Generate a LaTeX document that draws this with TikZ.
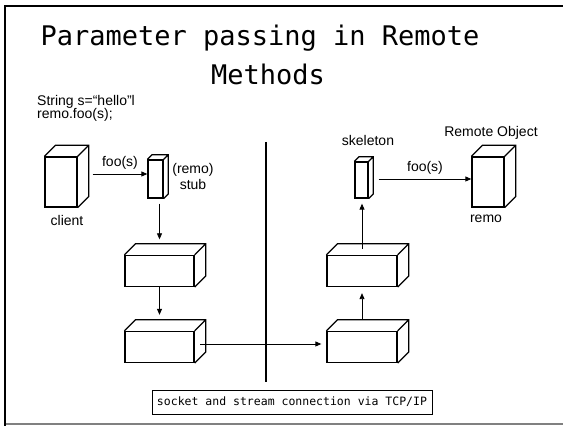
\documentclass[tikz,border=0pt]{standalone}
\usepackage{fontspec}
\setmainfont{Liberation Sans}
\newfontfamily\slidefont{DejaVu Sans Mono}
\usetikzlibrary{arrows.meta,calc}

\begin{document}
\begin{tikzpicture}[
  x=1pt, y=1pt,
  font=\fontsize{14}{16.5}\selectfont,
  crate/.style={draw, line width=1.3pt, inner sep=0pt},
  arr/.style={-{Triangle[length=6pt,width=5pt]}, line width=0.8pt},
  titletext/.style={font=\slidefont\fontsize{27}{30}\selectfont, inner sep=0pt, anchor=base}
]
  \useasboundingbox (0,0) rectangle (563,426);

  % slide frame
  \draw[line width=2.6pt] (563,420) -- (4.8,420) -- (4.8,0);
  \draw[gray, line width=1.5pt] (6,1.8) -- (563,1.8);

  % title
  \node[titletext] (title) at (260,380) {Parameter passing in Remote};
  \node[titletext] (title2) at (268,341) {Methods};

  % call in the client
  \node[anchor=north west, align=left, inner sep=0pt,
        font=\fontsize{14}{13.6}\selectfont] (code) at (37,331)
    {String s=“hello”l\\remo.foo(s);};

  % front faces
  \node[crate, minimum width=32, minimum height=50] (client) at (61,244) {};
  \node[crate, minimum width=15, minimum height=38] (stub) at (155.5,247) {};
  \node[crate, minimum width=69, minimum height=31] (box1) at (159.5,155) {};
  \node[crate, minimum width=69, minimum height=31] (box2) at (159.5,79) {};
  \node[crate, minimum width=70, minimum height=31] (box3) at (362,155) {};
  \node[crate, minimum width=70, minimum height=31] (box4) at (362,79) {};
  \node[crate, minimum width=13, minimum height=36] (skeleton) at (361.5,246) {};
  \node[crate, minimum width=32, minimum height=50] (remo) at (488,244) {};

  % top and side faces
  \foreach \n/\d in {client/11, stub/4.5, box1/11, box2/11,
                     box3/11, box4/11, skeleton/4.5, remo/11}
    \draw[line width=1.3pt] (\n.north west) -- ++(\d,\d)
      -- ($(\n.north east)+(\d,\d)$) -- ($(\n.south east)+(\d,\d)$)
      -- (\n.south east)
      (\n.north east) -- ++(\d,\d);

  % labels
  \node (clientlbl) at (67,206) {client};
  \node (stublbl) at (193,249.5) [align=center] {(remo)\\stub};
  \node (skellbl) at (368,286) {skeleton};
  \node (remolbl) at (491,293) {Remote Object};
  \node (remoname) at (486,207) {remo};

  % client side
  \draw[arr] ($(client.east)+(15,8)$) -- ($(stub.west)+(0,5)$)
    node[midway, above=1pt] (call1) {foo(s)};
  \draw[arr, shorten <=5pt, shorten >=4.5pt]
    (stub.south -| box1.north) -- ([yshift=11pt]box1.north);
  \draw[arr, shorten >=5pt] (box1.south) -- ([yshift=11pt]box2.north);

  % over the network
  \draw[arr, shorten >=5pt] ($(box2.east)+(5.5,3)$) -- ($(box4.west)+(0,3)$);

  % server side
  \draw[arr, shorten >=6pt] ([yshift=11pt]box4.north) -- (box3.south);
  \draw[arr, shorten >=5pt] ([yshift=6pt]box3.north) -- (skeleton.south -| box3.north);
  \draw[arr] ($(skeleton.east)+(10,1)$) -- ($(remo.west)+(0,3)$)
    node[midway, above=1pt] (call2) {foo(s)};

  % divider
  \draw[line width=2pt] (265.5,284) -- (265.5,44);

  % connection
  \node[draw, line width=0.8pt, minimum width=280, minimum height=24,
        font=\slidefont\fontsize{11.5}{13}\selectfont] (sock) at (292,24)
    {socket and stream connection via TCP/IP};

\end{tikzpicture}
\end{document}
